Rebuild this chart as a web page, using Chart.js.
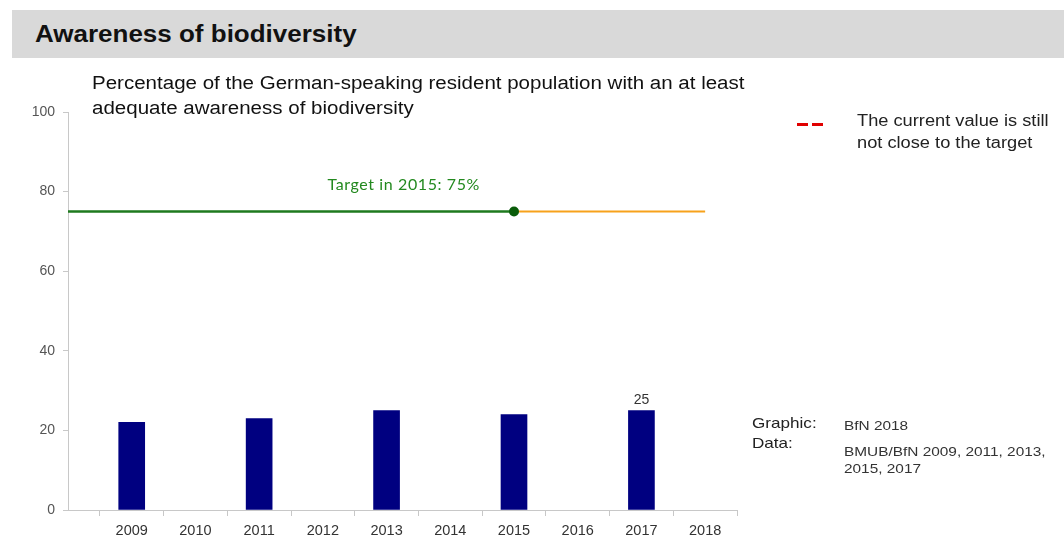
<!DOCTYPE html>
<html>
<head>
<meta charset="utf-8">
<script src="https://cdn.jsdelivr.net/npm/chart.js@4/dist/chart.umd.min.js"></script>
<style>
  html, body { margin: 0; padding: 0; background: #fff; }
  body { width: 1064px; height: 556px; position: relative; overflow: hidden; font-family: "Liberation Sans", Arial, sans-serif; }
  #wrap { position: absolute; left: 0; top: 0; width: 1064px; height: 556px; }
  .hdr { position: absolute; left: 12px; top: 10px; width: 1052px; height: 48px; background: #d9d9d9; }
  .hdr span { position: absolute; left: 23px; top: 11px; font-size: 23px; font-weight: bold; color: #111; transform: scaleX(1.13); transform-origin: left; white-space: nowrap; }
  .st { transform: scaleX(1.14); transform-origin: left top; white-space: nowrap; }
  .sub { position: absolute; left: 92px; top: 71px; font-size: 18px; line-height: 25px; color: #111; }
  .dash { position: absolute; top: 123px; width: 11px; height: 3px; background: #e00000; }
  .legtxt { position: absolute; left: 857px; top: 110px; font-size: 16px; line-height: 22px; color: #222; }
  .src { position: absolute; font-size: 15px; color: #222; }
  .src2 { position: absolute; font-size: 13.5px; line-height: 17px; color: #333; }
</style>
</head>
<body>
<div class="hdr"><span>Awareness of biodiversity</span></div>
<div id="wrap"><canvas id="c" width="1064" height="556"></canvas></div>
<div class="sub st">Percentage of the German-speaking resident population with an at least<br>adequate awareness of biodiversity</div>
<div class="dash" style="left:797px"></div>
<div class="dash" style="left:812px"></div>
<div class="legtxt st">The current value is still<br>not close to the target</div>
<div class="src st" style="left:752px;top:414px">Graphic:</div>
<div class="src st" style="left:752px;top:434px">Data:</div>
<div class="src2 st" style="left:844px;top:417px">BfN 2018</div>
<div class="src2 st" style="left:844px;top:443px">BMUB/BfN 2009, 2011, 2013,<br>2015, 2017</div>
<script>
// survey years and share (%) with adequate awareness
const years = [2009, 2011, 2013, 2015, 2017];
const awareness = [22, 23, 25, 24, 25];
const labelledYears = [2017];

// target line
const startYear = 2008;
const targetYear = 2015;
const endYear = 2018;
const targetValue = 75;

const yTicks = [0, 20, 40, 60, 80, 100];

const valueLabels = {
  id: "valueLabels",
  afterDatasetsDraw(chart) {
    const ctx = chart.ctx;
    const meta = chart.getDatasetMeta(0);
    ctx.save();
    ctx.font = "14px 'Liberation Sans', Arial";
    ctx.fillStyle = "#333";
    ctx.textAlign = "center";
    ctx.textBaseline = "bottom";
    meta.data.forEach((bar, i) => {
      if (labelledYears.includes(years[i])) {
        ctx.fillText(String(awareness[i]), bar.x, bar.y - 3);
      }
    });
    // target caption
    const xs = chart.scales.x, ys = chart.scales.y;
    ctx.font = "16px Lato, 'Open Sans', sans-serif";
    ctx.letterSpacing = "0.6px";
    ctx.fillStyle = "#23891f";
    ctx.textBaseline = "middle";
    ctx.fillText("Target in " + targetYear + ": " + targetValue + "%", xs.getPixelForValue(2013.27), ys.getPixelForValue(targetValue) - 27);
    ctx.restore();
  }
};

const ctx = document.getElementById("c").getContext("2d");
new Chart(ctx, {
  type: "bar",
  data: {
    datasets: [
      {
        label: "Awareness",
        data: years.map((y, i) => ({ x: y, y: awareness[i] })),
        backgroundColor: "#000080",
        barThickness: 26,
        order: 3,
      },
      {
        type: "line",
        label: "Target",
        data: [{ x: startYear, y: targetValue }, { x: targetYear, y: targetValue }],
        borderColor: "#1e7a1e",
        backgroundColor: "#0a5c0a",
        borderWidth: 2.5,
        pointRadius: (c) => (c.dataIndex === 1 ? 5 : 0),
        pointBorderWidth: 0,
        order: 1,
      },
      {
        type: "line",
        label: "Trend",
        data: [{ x: targetYear, y: targetValue }, { x: endYear, y: targetValue }],
        borderColor: "#f7a21b",
        borderWidth: 2,
        pointRadius: 0,
        order: 2,
      },
    ],
  },
  options: {
    responsive: false,
    animation: false,
    layout: { padding: { left: 0, right: 327, top: 112, bottom: 0 } },
    plugins: { legend: { display: false }, tooltip: { enabled: false } },
    scales: {
      x: {
        type: "linear",
        offset: false,
        min: startYear,
        max: endYear + 0.5,
        afterFit: (s) => { s.height = 46; s.paddingLeft = 0; s.paddingRight = 0; },
        afterBuildTicks: (s) => {
          const t = [];
          for (let v = startYear; v <= endYear + 0.5; v += 0.5) t.push({ value: v });
          s.ticks = t;
        },
        ticks: {
          autoSkip: false,
          maxRotation: 0,
          padding: 6,
          color: "#333",
          font: { family: "'Liberation Sans', Arial", size: 14.5 },
          callback: (v) => (Number.isInteger(v) && v > startYear ? String(v) : ""),
        },
        grid: {
          offset: false,
          drawOnChartArea: false,
          tickLength: 6,
          color: (c) => (c.tick && !Number.isInteger(c.tick.value) ? "#c8c8c8" : "rgba(0,0,0,0)"),
        },
        border: { color: "#c8c8c8", width: 1 },
      },
      y: {
        min: 0,
        max: 100,
        afterFit: (s) => { s.width = 68; },
        afterBuildTicks: (s) => { s.ticks = yTicks.map((v) => ({ value: v })); },
        ticks: {
          color: "#555",
          padding: 8,
          font: { family: "'Liberation Sans', Arial", size: 14 },
        },
        grid: { drawOnChartArea: false, tickLength: 5, color: "#c8c8c8" },
        border: { color: "#c8c8c8", width: 1 },
      },
    },
  },
  plugins: [valueLabels],
});
</script>
</body>
</html>
